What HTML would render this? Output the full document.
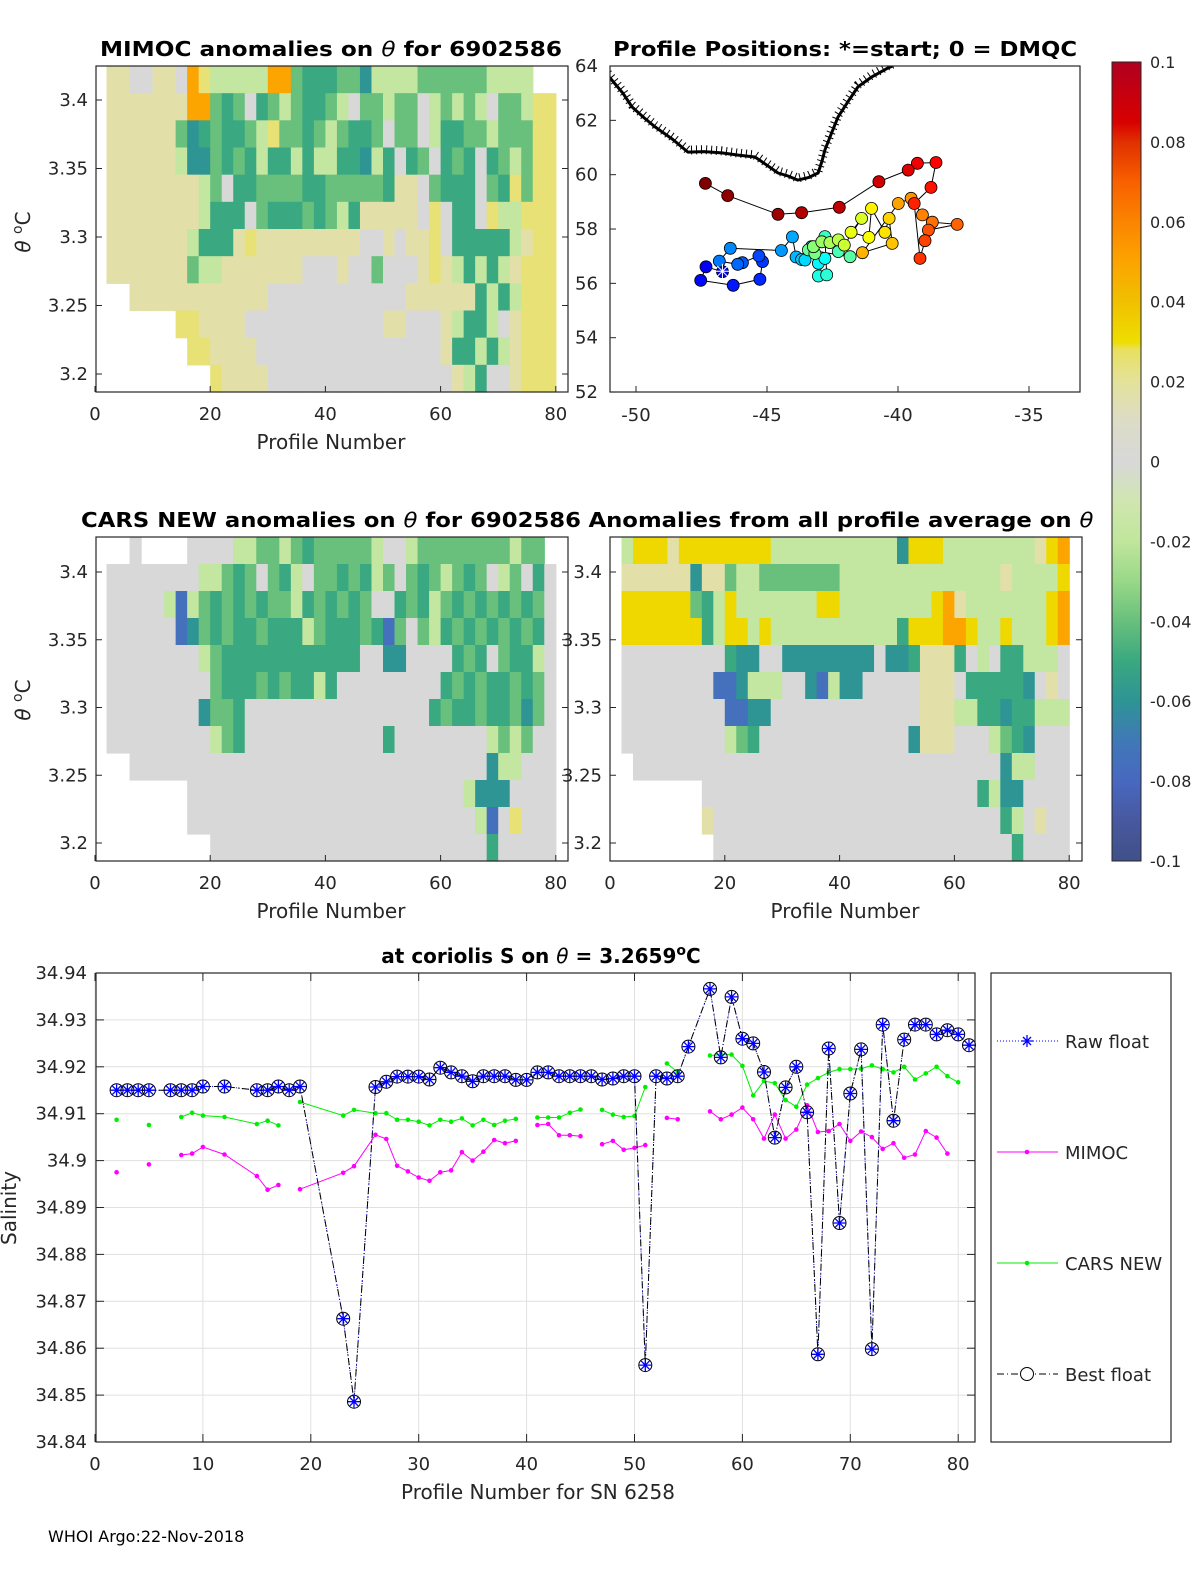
<!DOCTYPE html>
<html><head><meta charset="utf-8"><style>
html,body{margin:0;padding:0;background:#fff;}
svg{display:block;font-family:"DejaVu Sans","Liberation Sans",sans-serif;}
.tk{font-size:18px;fill:#262626;}
.ttl{font-size:20px;font-weight:bold;fill:#000;}
.th{font-style:italic;font-weight:normal;}
.lab{font-size:20px;fill:#262626;}
.cb{font-size:16px;fill:#262626;}
</style></head><body>
<svg id="fig" width="1200" height="1575" viewBox="0 0 1200 1575" xmlns="http://www.w3.org/2000/svg">
<defs>
<linearGradient id="cbg" x1="0" y1="1" x2="0" y2="0">
<stop offset="0" stop-color="#405088"/><stop offset="0.05" stop-color="#4858a0"/><stop offset="0.1" stop-color="#4868c0"/>
<stop offset="0.15" stop-color="#4078b8"/><stop offset="0.2" stop-color="#2e9494"/><stop offset="0.25" stop-color="#3aa880"/>
<stop offset="0.3" stop-color="#68c07c"/><stop offset="0.35" stop-color="#98d888"/><stop offset="0.4" stop-color="#c0e69c"/>
<stop offset="0.45" stop-color="#d0e6b0"/><stop offset="0.5" stop-color="#d8d8d8"/><stop offset="0.55" stop-color="#dcdcc8"/>
<stop offset="0.6" stop-color="#e4e29a"/><stop offset="0.64" stop-color="#e8e060"/><stop offset="0.65" stop-color="#eede00"/>
<stop offset="0.7" stop-color="#f0c000"/><stop offset="0.75" stop-color="#fca400"/><stop offset="0.8" stop-color="#fb8400"/>
<stop offset="0.85" stop-color="#f86000"/><stop offset="0.9" stop-color="#e03000"/><stop offset="0.925" stop-color="#d80000"/>
<stop offset="1" stop-color="#b00020"/></linearGradient>
<clipPath id="mapclip"><rect x="610" y="66" width="470" height="326"/></clipPath>
</defs>

<text class="ttl" x="331" y="56" text-anchor="middle" textLength="462" lengthAdjust="spacingAndGlyphs">MIMOC anomalies on <tspan class="th">θ</tspan>  for 6902586</text>
<text class="ttl" x="845" y="56" text-anchor="middle" textLength="464" lengthAdjust="spacingAndGlyphs">Profile Positions: *=start; 0 = DMQC</text>
<text class="ttl" x="331" y="527" text-anchor="middle" textLength="500" lengthAdjust="spacingAndGlyphs">CARS NEW anomalies on <tspan class="th">θ</tspan> for 6902586</text>
<text class="ttl" x="841" y="527" text-anchor="middle" textLength="505" lengthAdjust="spacingAndGlyphs">Anomalies from all profile average on <tspan class="th">θ</tspan></text>
<text class="ttl" x="541" y="963" text-anchor="middle">at coriolis S on <tspan class="th">θ</tspan> = 3.2659<tspan dy="-8" font-size="14">o</tspan><tspan dy="8">C</tspan></text>

<g id="hm1"></g>
<g id="hm2"></g>
<g id="hm3"></g>
<g id="map" clip-path="url(#mapclip)"></g>
<g id="sal"></g>
<g id="axes"></g>

<rect x="1112" y="62" width="29" height="799" fill="url(#cbg)" stroke="#262626" stroke-width="1"/>
<g id="cbl"></g>

<text x="48" y="1542" font-size="16" fill="#000">WHOI Argo:22-Nov-2018</text>
</svg>
<script>
// ---- heatmap data (codes per 2 profiles x 0.02 degC bins, top to bottom) ----
const codeValues = {'w':0,'y':0.017,'Y':0.025,'Z':0.032,'o':0.05,'l':-0.018,'g':-0.04,'G':-0.05,'t':-0.06,'b':-0.075};
const mimocRows = [
".yywwyywoY llllloogGG Gggtllllgg ggggllll..",
".yyyyyyyoo gGgwGglgGG glwgglggwl glglwgglYY",
".yyyyyygtG gGGglYggGg lgGGgwggwl GGgglgggYY",
".yyyyyyltt gGgGlGGlGl lGGtlGwGgw GgGwGglgYY",
".yyyyyyyyl gwGGggggGG gggggGyywg GGGwgGYgYY",
".yyyyyyyyl GGGwgGGGgG glGyyyyywY wGGwYllYYY",
".yyyyyyylG GGyYyyyyyy yyywwywyyY wGGGGGlyYY",
".yyyyyyygl lyyyyyyyww wywwgwwwyY ylGlGlyYYY",
"...yyyyyyy yyyyywwwww wwwwwwwyyy yyyGlGlYYY",
".......YYy yyywwwwwww wwwwwyywww ylGGlwyYYY",
"........YY yyyywwwwww wwwwwwwwww yGGlGlyYYY",
".......... Yyyyywwwww wwwwwwwwww wylGwwyYYY"];
const carsRows = [
"...w....ww wwllgglgGg gggglwwlgg gggggglgg.",
".wwwwwwwwl lgGgwgGlwg gGgGlgwgGg lgGgwlgwGw",
".wwwwwlblg GgGgGgglGg GgGgwwGgGl gGgGgGgGgw",
".wwwwwwbtg GgGGgGGGlg GGGgGbgwgl GgGgGgGgGw",
".wwwwwwwwl gGGGGGGGGG GGGwwttwww wGgGwgGGlw",
".wwwwwwwww gGGGgGgGGl Gwwwwwwwww GgGgGGgGgw",
".wwwwwwwwt ggGwwwwwww wwwwwwwwwG gGGgGGgtgw",
".wwwwwwwww lgGwwwwwww wwwwwGwwww wwwwlglgww",
"...wwwwwww wwwwwwwwww wwwwwwwwww wwwwtllwww",
"........ww wwwwwwwwww wwwwwwwwww wwltttwwww",
"........ww wwwwwwwwww wwwwwwwwww wwwlbwYwww",
".......... wwwwwwwwww wwwwwwwwww wwwwGwwwww"];
const avgRows = [
".lZZZyZZZZ ZZZZllllll llllltZZZl lllllllyZo",
".yyyyyytyy gllggggggg llllllllll llllyllllZ",
".ZZZZZZgGl ZlllllllZZ llllllllZo ylllllllZo",
".ZZZZZZZGl ZZlZllllll lllllGZZZo oZllZlllZo",
".wwwwwwwww Gttwwttttt tttwttGyyy GwlwGGlllw",
".wwwwwwwwb btlllwwtbl ttwwwwwyyy wGGGGGtwyw",
".wwwwwwwww bbttwwwwww wwwwwwwyyy llGGtGGlll",
".wwwwwwwww lgGwwwwwww wwwwwwtyyy wwwlgGtwww",
"..wwwwwwww wwwwwwwwww wwwwwwwwww wwwwtllwww",
"........ww wwwwwwwwww wwwwwwwwww wwGlttwwww",
"........yw wwwwwwwwww wwwwwwwwww wwwwGlwyww",
".........w wwwwwwwwww wwwwwwwwww wwwwwGwwww"];

// ---- map data: float positions in profile order ----
const floatLon = [-46.70,-47.33,-47.53,-46.29,-45.27,-45.17,-45.31,-45.94,-46.12,-46.82,-46.40,-44.45,-44.03,-43.89,-43.68,-43.55,-43.30,-43.04,-42.79,-43.04,-42.72,-42.79,-42.28,-41.83,-43.42,-43.17,-43.23,-42.91,-42.60,-42.28,-42.05,-41.39,-41.79,-41.11,-41.01,-40.50,-40.34,-40.22,-41.36,-39.99,-39.50,-39.07,-38.69,-37.74,-38.84,-38.97,-39.16,-39.38,-38.74,-38.55,-39.26,-39.61,-40.73,-42.24,-43.68,-44.58,-46.50,-47.35];
const floatLat = [56.43,56.61,56.11,55.93,56.15,56.80,57.01,56.76,56.70,56.82,57.29,57.21,57.71,56.97,56.88,56.86,57.35,56.74,56.92,56.27,56.31,57.72,57.17,56.98,57.23,57.10,57.35,57.53,57.50,57.60,57.41,58.39,57.88,57.69,58.76,57.88,58.39,57.47,57.13,58.94,59.13,58.52,58.25,58.17,57.96,57.57,56.92,58.94,59.53,60.45,60.42,60.17,59.74,58.80,58.60,58.54,59.23,59.68];
const coastLon = [-51.2,-50.92,-50.5,-50.15,-49.7,-49.27,-48.6,-48.02,-47.4,-46.72,-46.1,-45.46,-45.0,-44.58,-44.2,-43.82,-43.4,-43.05,-42.9,-42.79,-42.55,-42.29,-41.9,-41.53,-41.0,-40.38,-40.2];
const coastLat = [63.8,63.48,63.0,62.49,62.1,61.76,61.3,60.83,60.85,60.80,60.72,60.65,60.35,60.06,59.95,59.80,59.9,60.06,60.5,60.91,61.5,62.12,62.7,63.23,63.6,63.93,64.0];

// ---- salinity chart data ----
const bestX = [2,3,4,5,7,8,9,10,12,15,16,17,18,19,23,24,26,27,28,29,30,31,32,33,34,35,36,37,38,39,40,41,42,43,44,45,46,47,48,49,50,51,52,53,54,55,57,58,59,60,61,62,63,64,65,66,67,68,69,70,71,72,73,74,75,76,77,78,79,80,81];
const bestS = [34.915,34.915,34.915,34.915,34.915,34.915,34.915,34.9158,34.9158,34.915,34.915,34.9158,34.915,34.9158,34.8663,34.8486,34.9157,34.9168,34.9179,34.9179,34.9179,34.9173,34.9198,34.9188,34.918,34.9169,34.918,34.918,34.918,34.9172,34.9172,34.9188,34.9188,34.918,34.918,34.918,34.918,34.9173,34.9175,34.918,34.918,34.8564,34.918,34.9175,34.918,34.9243,34.9366,34.922,34.9349,34.926,34.925,34.9189,34.9049,34.9156,34.92,34.9103,34.8587,34.9239,34.8867,34.9143,34.9237,34.8598,34.929,34.9085,34.9258,34.929,34.929,34.9269,34.9278,34.9269,34.9246];
const mimocX = [2,null,5,null,8,9,10,12,15,16,17,null,19,23,24,26,27,28,29,30,31,32,33,34,35,36,37,38,39,null,41,42,43,44,45,null,47,48,49,50,51,null,53,54,null,57,58,59,60,61,62,63,64,65,66,67,68,69,70,71,72,73,74,75,76,77,78,79];
const mimocS = [34.8975,null,34.8992,null,34.9012,34.9015,34.9029,34.9013,34.8967,34.8938,34.8948,null,34.8939,34.8974,34.8988,34.9055,34.9046,34.8989,34.8977,34.8964,34.8957,34.8975,34.8979,34.9018,34.9,34.9019,34.9044,34.9037,34.9042,null,34.9076,34.9078,34.9054,34.9054,34.9052,null,34.9035,34.9042,34.9023,34.9027,34.9033,null,34.9091,34.9088,null,34.9105,34.9088,34.9098,34.9113,34.9088,34.9047,34.9098,34.9047,34.9066,34.9118,34.9061,34.9063,34.9078,34.9042,34.9062,34.905,34.9025,34.9037,34.9006,34.9013,34.9063,34.9049,34.9015];
const carsX = [2,null,5,null,8,9,10,12,15,16,17,null,19,23,24,26,27,28,29,30,31,32,33,34,35,36,37,38,39,null,41,42,43,44,45,null,47,48,49,50,51,null,53,54,null,57,58,59,60,61,62,63,64,65,66,67,68,69,70,71,72,73,74,75,76,77,78,79,80];
const carsS = [34.9087,null,34.9076,null,34.9093,34.9102,34.9096,34.9093,34.9078,34.9085,34.9075,null,34.9125,34.9096,34.9108,34.9101,34.9101,34.9087,34.9087,34.9083,34.9075,34.9087,34.9083,34.909,34.9075,34.9087,34.9076,34.9085,34.9089,null,34.9092,34.9092,34.9092,34.9102,34.9109,null,34.9108,34.9098,34.9093,34.9095,34.9157,null,34.9207,34.9189,null,34.9224,34.9226,34.9226,34.9202,34.9139,34.917,34.9165,34.9129,34.9115,34.9162,34.9176,34.9188,34.9195,34.9195,34.9196,34.9203,34.9195,34.9188,34.92,34.9173,34.9186,34.92,34.918,34.9167];
const salTicks = ["34.94","34.93","34.92","34.91","34.9","34.89","34.88","34.87","34.86","34.85","34.84"];
const profTicks = [0,10,20,30,40,50,60,70,80];
const cbTicks = ["0.1","0.08","0.06","0.04","0.02","0","-0.02","-0.04","-0.06","-0.08","-0.1"];

const NS = "http://www.w3.org/2000/svg";
function mk(tag, attrs, parent){const e=document.createElementNS(NS,tag);for(const k in attrs)e.setAttribute(k,attrs[k]);(parent||document.getElementById('axes')).appendChild(e);return e;}

const cmapStops=[[-0.1,[64,80,136]],[-0.09,[72,88,160]],[-0.08,[72,104,192]],[-0.07,[64,120,184]],[-0.06,[46,148,148]],[-0.05,[58,168,128]],[-0.04,[104,192,124]],[-0.03,[152,216,136]],[-0.02,[192,230,156]],[-0.01,[208,230,176]],[0,[216,216,216]],[0.01,[220,220,200]],[0.02,[228,226,154]],[0.028,[232,224,96]],[0.03,[238,222,0]],[0.04,[240,192,0]],[0.05,[252,164,0]],[0.06,[251,132,0]],[0.07,[248,96,0]],[0.08,[224,48,0]],[0.085,[216,0,0]],[0.1,[176,0,32]]];
function cmap(v){v=Math.max(-0.1,Math.min(0.1,v));for(let i=1;i<cmapStops.length;i++){if(v<=cmapStops[i][0]){const a=cmapStops[i-1],b=cmapStops[i],t=(v-a[0])/(b[0]-a[0]);const c=a[1].map((x,j)=>Math.round(x+(b[1][j]-x)*t));return 'rgb('+c.join(',')+')';}}return 'rgb(176,0,32)';}

function drawHeat(gid, rows, x0, ppu, top, rowH, maxX){
  const g=document.getElementById(gid);
  rows.forEach((r,ri)=>{
    const s=r.replace(/ /g,'');
    for(let ci=0;ci<s.length;ci++){
      const c=s[ci]; if(!(c in codeValues)) continue;
      const xa=ci*2, xb=Math.min(ci*2+2,maxX);
      if(xb<=xa) continue;
      const el=mk('rect',{x:(x0+xa*ppu).toFixed(2),y:(top+ri*rowH).toFixed(2),width:((xb-xa)*ppu+0.6).toFixed(2),height:(rowH+0.6).toFixed(2),fill:cmap(codeValues[c])},g);
      
      
    }
  });
}
drawHeat('hm1',mimocRows,95,5.76,66,326/12,82);
drawHeat('hm2',carsRows,95,5.76,537,324/12,82);
drawHeat('hm3',avgRows,610,5.74,537,324/12,81.8);

function text(x,y,str,cls,anchor,name,parent){const t=mk('text',{x:x,y:y,class:cls,'text-anchor':anchor||'middle'},parent);t.textContent=str;


return t;}

function frame(x,y,w,h,name){const r=mk('rect',{x:x,y:y,width:w,height:h,fill:'none',stroke:'#262626','stroke-width':1.2});

}

const thTicks=["3.4","3.35","3.3","3.25","3.2"];
function heatAxes(px0,ppu,top,h,y34,y32,left,name){
  frame(left,top,472,h,name+'-frame');
  profTicks.forEach(v=>{if(v%20)return;const x=px0+v*ppu;mk('line',{x1:x,y1:top+h,x2:x,y2:top+h-6,stroke:'#262626'});
    text(x,top+h+28,String(v),'tk','middle',name+'-x-tick');});
  thTicks.forEach((s,i)=>{const y=y34+(y32-y34)*i/4;mk('line',{x1:left,y1:y,x2:left+6,y2:y,stroke:'#262626'});mk('line',{x1:left+472,y1:y,x2:left+466,y2:y,stroke:'#262626'});
    text(left-8,y+6,s,'tk','end',name+'-y-tick');});
}
heatAxes(95,5.76,66,326,100,374,96,'mimoc');
heatAxes(95,5.76,537,324,572,843,96,'cars');
heatAxes(610,5.74,537,324,572,843,610,'avg');
text(331,449,'Profile Number','lab','middle','mimoc-x-label');
text(331,918,'Profile Number','lab','middle','cars-x-label');
text(845,918,'Profile Number','lab','middle','avg-x-label');
[[232,'mimoc-y-label'],[700,'cars-y-label']].forEach(([cy,n])=>{const t=mk('text',{x:0,y:0,class:'lab',transform:'translate(30,'+cy+') rotate(-90)','text-anchor':'middle'});
  t.innerHTML='<tspan font-style="italic">θ</tspan> <tspan dy="-8" font-size="14">o</tspan><tspan dy="8">C</tspan>';
  
  });

// map
const mg=document.getElementById('map');
const lonX=l=>636+(l+50)*26.2, latY=l=>66+(64-l)*27.17;
frame(610,66,470,326,'map-frame');
[64,62,60,58,56,54,52].forEach(l=>{const y=latY(l);mk('line',{x1:610,y1:y,x2:616,y2:y,stroke:'#262626'});text(575,y+6,String(l),'tk','start','map-lat-tick');});
[-50,-45,-40,-35].forEach(l=>{const x=lonX(l);mk('line',{x1:x,y1:392,x2:x,y2:386,stroke:'#262626'});text(x,421,String(l),'tk','middle','map-lon-tick');});
const coast=coastLon.map((l,i)=>lonX(l).toFixed(1)+','+latY(coastLat[i]).toFixed(1)).join(' ');
const cl=mk('polyline',{points:coast,fill:'none',stroke:'#000','stroke-width':3,'stroke-linejoin':'round'},mg);


const cl2=mk('polyline',{points:coast,fill:'none',stroke:'#000','stroke-width':9,'stroke-dasharray':'1 4',transform:'translate(0,-2)'},mg);


const tr=mk('polyline',{points:floatLon.map((l,i)=>lonX(l).toFixed(1)+','+latY(floatLat[i]).toFixed(1)).join(' '),fill:'none',stroke:'#000','stroke-width':1},mg);


function jet(t){const r=Math.min(1,Math.max(0,1.5-Math.abs(4*t-3))),g=Math.min(1,Math.max(0,1.5-Math.abs(4*t-2))),b=Math.min(1,Math.max(0,1.5-Math.abs(4*t-1)));return 'rgb('+[r,g,b].map(v=>Math.round(v*255)).join(',')+')';}
floatLon.forEach((l,i)=>{const c=mk('circle',{cx:lonX(l).toFixed(1),cy:latY(floatLat[i]).toFixed(1),r:6,fill:jet(0.1+0.9*i/(floatLon.length-1)),stroke:'#000','stroke-width':0.8},mg);
  
  });
const st=mk('text',{x:lonX(floatLon[0]),y:latY(floatLat[0])+7,'text-anchor':'middle','font-size':20,fill:'#fff'},mg);st.textContent='✳';



cbTicks.forEach((s,i)=>{const y=62+i*79.9;mk('line',{x1:1136,y1:y,x2:1141,y2:y,stroke:'#262626'});text(1150,y+6,s,'cb','start','colorbar-tick');});

// salinity chart
const sg=document.getElementById('sal');
const bx=v=>95+v*10.79, by=s=>973+(34.94-s)*4690;
salTicks.forEach(s=>{const y=by(parseFloat(s));mk('line',{x1:96,y1:y,x2:975,y2:y,stroke:'#e0e0e0'},sg);
  mk('line',{x1:96,y1:y,x2:104,y2:y,stroke:'#262626'});mk('line',{x1:975,y1:y,x2:967,y2:y,stroke:'#262626'});
  text(87,y+6,s,'tk','end','salinity-y-tick');});
profTicks.forEach(v=>{const x=bx(v);mk('line',{x1:x,y1:973,x2:x,y2:1442,stroke:'#e0e0e0'},sg);
  mk('line',{x1:x,y1:1442,x2:x,y2:1434,stroke:'#262626'});mk('line',{x1:x,y1:973,x2:x,y2:981,stroke:'#262626'});
  text(x,1470,String(v),'tk','middle','salinity-x-tick');});
frame(96,973,879,469,'salinity-frame');
text(538,1499,'Profile Number for SN 6258','lab','middle','salinity-x-label');
const yl=mk('text',{x:0,y:0,class:'lab',transform:'translate(16,1208) rotate(-90)','text-anchor':'middle'});yl.textContent='Salinity';



function seriesPath(xs,ys){let d='',pen=false;xs.forEach((x,i)=>{if(x===null||ys[i]===null){pen=false;return;}d+=(pen?'L':'M')+bx(x).toFixed(1)+' '+by(ys[i]).toFixed(1);pen=true;});return d;}
function drawModel(xs,ys,col,name){
  const p=mk('path',{d:seriesPath(xs,ys),fill:'none',stroke:col,'stroke-width':1},sg);
  
  
  xs.forEach((x,i)=>{if(x===null)return;const c=mk('circle',{cx:bx(x).toFixed(1),cy:by(ys[i]).toFixed(1),r:2.3,fill:col},sg);
    
    });
}
drawModel(mimocX,mimocS,'#ff00ff','mimoc');
drawModel(carsX,carsS,'#00ee00','cars');
const raw=mk('path',{d:seriesPath(bestX,bestS),fill:'none',stroke:'#0000ff','stroke-width':1,'stroke-dasharray':'1 2'},sg);


const best=mk('path',{d:seriesPath(bestX,bestS),fill:'none',stroke:'#000','stroke-width':1,'stroke-dasharray':'7 3 1 3'},sg);


function marker(x,y,parent,name){
  const g=mk('g',{transform:'translate('+x.toFixed(1)+','+y.toFixed(1)+')'},parent);
  
  
  mk('circle',{cx:0,cy:0,r:6.5,fill:'none',stroke:'#000','stroke-width':1},g);
  mk('path',{d:'M-6 0H6M0 -6V6M-4.2 -4.2L4.2 4.2M-4.2 4.2L4.2 -4.2',stroke:'#0000ff','stroke-width':1.3},g);
}
bestX.forEach((x,i)=>marker(bx(x),by(bestS[i]),sg,'best-float-point'));

const lg=mk('rect',{x:991,y:973,width:180,height:469,fill:'#fff',stroke:'#262626','stroke-width':1.2});


const legItems=[['Raw float',1041],['MIMOC',1152],['CARS NEW',1263],['Best float',1374]];
legItems.forEach(([n,y],i)=>{
  const col=['#0000ff','#ff00ff','#00ee00','#000'][i];
  const dash=['1 2','','','7 3 1 3'][i];
  const ln=mk('line',{x1:997,y1:y,x2:1058,y2:y,stroke:col,'stroke-width':1,'stroke-dasharray':dash});
  
  
  if(i===0){const a=mk('path',{d:'M1021 '+y+'h12M1027 '+(y-6)+'v12M1023 '+(y-4)+'l8 8M1023 '+(y+4)+'l8 -8',stroke:'#0000ff','stroke-width':1.3});}
  if(i===1||i===2){const c=mk('circle',{cx:1027,cy:y,r:2.3,fill:col});}
  if(i===3){const c=mk('circle',{cx:1027,cy:y,r:6.5,fill:'#fff',stroke:'#000'});}
  text(1065,y+7,n,'tk','start','legend-entry');
});
</script>
</body></html>
